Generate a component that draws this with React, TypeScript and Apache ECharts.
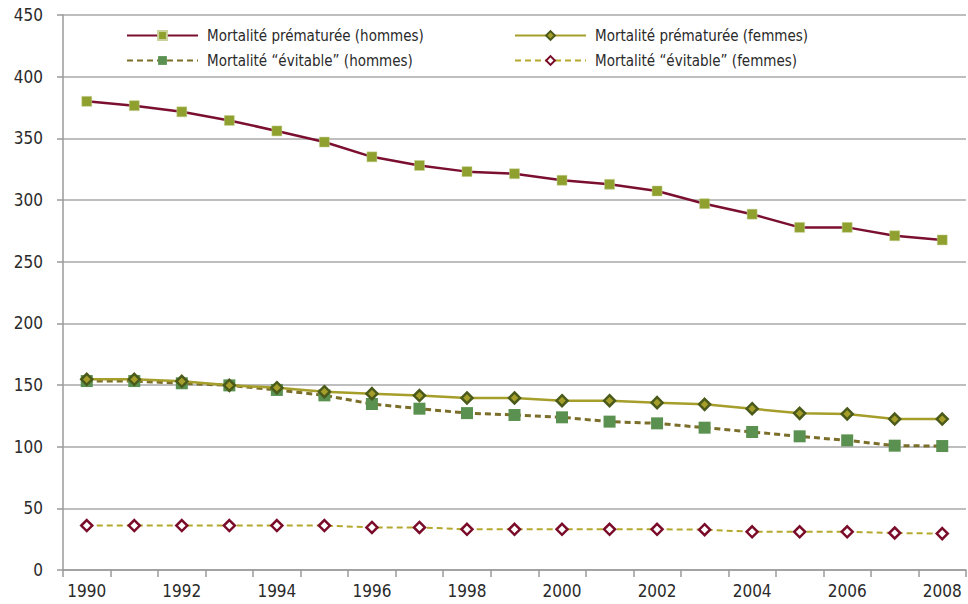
import React, { useEffect, useRef } from "react";
import * as echarts from "echarts";

const years = ["1990","1991","1992","1993","1994","1995","1996","1997","1998","1999","2000","2001","2002","2003","2004","2005","2006","2007","2008"];
const prematureHommes = [380, 376.5, 371.5, 364.5, 356, 347, 335, 328, 323, 321.3, 316, 312.7, 307.3, 297, 288.5, 277.8, 277.8, 271, 267.6];
const prematureFemmes = [154.6, 154.6, 153, 149.7, 147.8, 144.6, 143, 141.4, 139.5, 139.5, 137.3, 137.3, 135.7, 134.3, 130.8, 127, 126.5, 122.4, 122.4];
const evitableHommes = [153.2, 153.2, 151.4, 149.7, 146, 141.6, 134.6, 130.8, 127.2, 125.7, 123.8, 120.3, 118.9, 115.4, 111.9, 108.4, 105.1, 100.8, 100.5];
const evitableFemmes = [36, 36, 36, 36, 36, 36, 34.5, 34.5, 33, 33, 33, 33, 33, 32.7, 31, 31, 31, 30, 29.5];
const seriesNames = [
  "Mortalité prématurée (hommes)",
  "Mortalité prématurée (femmes)",
  "Mortalité “évitable” (hommes)",
  "Mortalité “évitable” (femmes)",
];

const FONT = "'Liberation Sans Narrow', 'DejaVu Sans Condensed', 'Arial Narrow', sans-serif";

export default function App() {
  const ref = useRef<HTMLDivElement>(null);
  useEffect(() => {
    if (!ref.current) return;
    const chart = echarts.init(ref.current, null, { renderer: "svg" });
    const legendBase = {
      itemWidth: 71,
      itemHeight: 11,
      padding: 0,
      textStyle: { fontFamily: FONT, fontSize: 15, color: "#2a2a2a", padding: [0, 0, 0, 4] },
      selectedMode: false,
    };
    chart.setOption({
      animation: false,
      textStyle: { fontFamily: FONT },
      grid: { left: 63, right: 2, top: 15, bottom: 34 },
      legend: [
        { ...legendBase, data: [seriesNames[0]], left: 126, top: 28 },
        { ...legendBase, data: [seriesNames[1]], left: 514, top: 28 },
        { ...legendBase, data: [seriesNames[2]], left: 126, top: 53 },
        { ...legendBase, data: [seriesNames[3]], left: 514, top: 53 },
      ],
      xAxis: {
        type: "category",
        data: years,
        boundaryGap: true,
        axisLine: { lineStyle: { color: "#9a9a9a", width: 1.5 } },
        axisTick: { show: true, interval: 0, length: 7, lineStyle: { color: "#9a9a9a", width: 1.5 } },
        axisLabel: { interval: 1, margin: 12, fontSize: 17, color: "#2a2a2a", fontFamily: FONT },
        splitLine: { show: false },
      },
      yAxis: {
        type: "value",
        min: 0,
        max: 450,
        interval: 50,
        axisLine: { show: true, lineStyle: { color: "#9a9a9a", width: 1.5 } },
        axisTick: { show: true, length: 6, lineStyle: { color: "#9a9a9a", width: 1.5 } },
        axisLabel: { margin: 20, fontSize: 17, color: "#2a2a2a", fontFamily: FONT },
        splitLine: { show: true, lineStyle: { color: "#a8a8a8", width: 1.5 } },
      },
      series: [
        {
          name: seriesNames[0],
          type: "line",
          data: prematureHommes,
          symbol: "rect",
          symbolSize: 10,
          lineStyle: { color: "#7b0f2f", width: 2.5 },
          itemStyle: { color: "#8fa02e", borderColor: "#c8d29a", borderWidth: 0.5 },
          z: 4,
        },
        {
          name: seriesNames[1],
          type: "line",
          data: prematureFemmes,
          symbol: "diamond",
          symbolSize: 11,
          lineStyle: { color: "#a59e2a", width: 2.5 },
          itemStyle: { color: "#a59e2a", borderColor: "#4a5a1a", borderWidth: 2.5 },
          z: 4,
        },
        {
          name: seriesNames[2],
          type: "line",
          data: evitableHommes,
          symbol: "rect",
          symbolSize: 12,
          lineStyle: { color: "#7a6e2a", width: 3, type: [6, 4] },
          itemStyle: { color: "#5a9150" },
          z: 3,
        },
        {
          name: seriesNames[3],
          type: "line",
          data: evitableFemmes,
          symbol: "diamond",
          symbolSize: 11,
          lineStyle: { color: "#b5a82e", width: 2, type: [6, 4] },
          itemStyle: { color: "#ffffff", borderColor: "#7a0c2a", borderWidth: 2.5 },
          z: 3,
        },
      ],
    });
    return () => chart.dispose();
  }, []);
  return (
    <div
      ref={ref}
      style={{ position: "fixed", left: 0, top: 0, width: 968, height: 604, background: "#ffffff" }}
    />
  );
}
